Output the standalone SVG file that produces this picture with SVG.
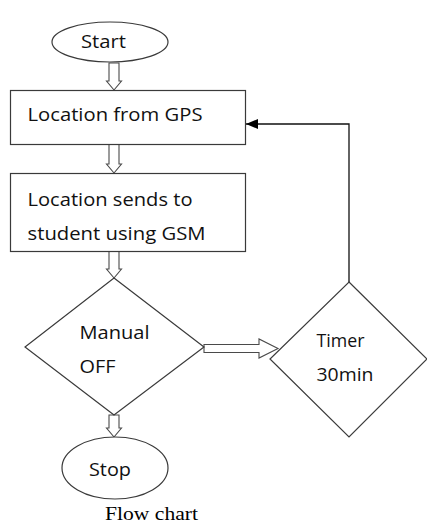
<svg xmlns="http://www.w3.org/2000/svg" width="427" height="523" viewBox="0 0 427 523">
<style>
.shape{fill:#fff;stroke:#3a3a3a;stroke-width:1.2}
.blk{fill:#fff;stroke:#4a4a4a;stroke-width:1.1}
.t{font-family:"Open Sans","Liberation Sans",sans-serif;font-size:19px;fill:#111}
.cap{font-family:"Liberation Serif",serif;font-size:19px;fill:#000}
.ln{fill:none;stroke:#111;stroke-width:1.3}
</style>
<defs>
<marker id="ah" markerWidth="12" markerHeight="10" refX="12" refY="5" orient="auto" markerUnits="userSpaceOnUse">
<path d="M0,0 L12,5 L0,10 Z" fill="#000"/>
</marker>
</defs>
<rect width="427" height="523" fill="#fff"/>
<g id="connectors">
<path class="blk" d="M109,63 H119 V81 H121.5 L114,90 L106.5,81 H109 Z"/>
<path class="blk" d="M109,144 H119 V164 H121.5 L114,173 L106.5,164 H109 Z"/>
<path class="blk" d="M109,251 H119 V269 H121.5 L114,278 L106.5,269 H109 Z"/>
<path class="blk" d="M109,415 H119 V428 H121.5 L114,437 L106.5,428 H109 Z"/>
<path class="blk" d="M204,344.5 H259 V339 L278,348.5 L259,358 V352.5 H204 Z"/>
<path class="ln" d="M349,282 V124 H246" marker-end="url(#ah)"/>
</g>
<g id="start">
<ellipse class="shape" cx="110" cy="42" rx="58" ry="20"/>
<text class="t" x="81" y="48" textLength="45" lengthAdjust="spacingAndGlyphs">Start</text>
</g>
<g id="gps">
<rect class="shape" x="10.5" y="90.5" width="235" height="54"/>
<text class="t" x="27.5" y="121" textLength="175" lengthAdjust="spacingAndGlyphs">Location from GPS</text>
</g>
<g id="gsm">
<rect class="shape" x="10.5" y="173.5" width="235" height="78"/>
<text class="t" x="27.5" y="206" textLength="165" lengthAdjust="spacingAndGlyphs">Location sends to</text>
<text class="t" x="27.5" y="240" textLength="178" lengthAdjust="spacingAndGlyphs">student using GSM</text>
</g>
<g id="manual">
<polygon class="shape" points="114,278 204,347 114,415 25,347"/>
<text class="t" x="79.5" y="339" textLength="70" lengthAdjust="spacingAndGlyphs">Manual</text>
<text class="t" x="79.5" y="373" textLength="36" lengthAdjust="spacingAndGlyphs">OFF</text>
</g>
<g id="timer">
<polygon class="shape" points="349,282 427,359 349,437 270,359"/>
<text class="t" x="316.5" y="347" textLength="48" lengthAdjust="spacingAndGlyphs">Timer</text>
<text class="t" x="316.5" y="381" textLength="57" lengthAdjust="spacingAndGlyphs">30min</text>
</g>
<g id="stop">
<ellipse class="shape" cx="115" cy="468" rx="53" ry="31"/>
<text class="t" x="89" y="476" textLength="42" lengthAdjust="spacingAndGlyphs">Stop</text>
</g>
<text class="cap" x="105" y="520" textLength="93" lengthAdjust="spacingAndGlyphs">Flow chart</text>
</svg>
